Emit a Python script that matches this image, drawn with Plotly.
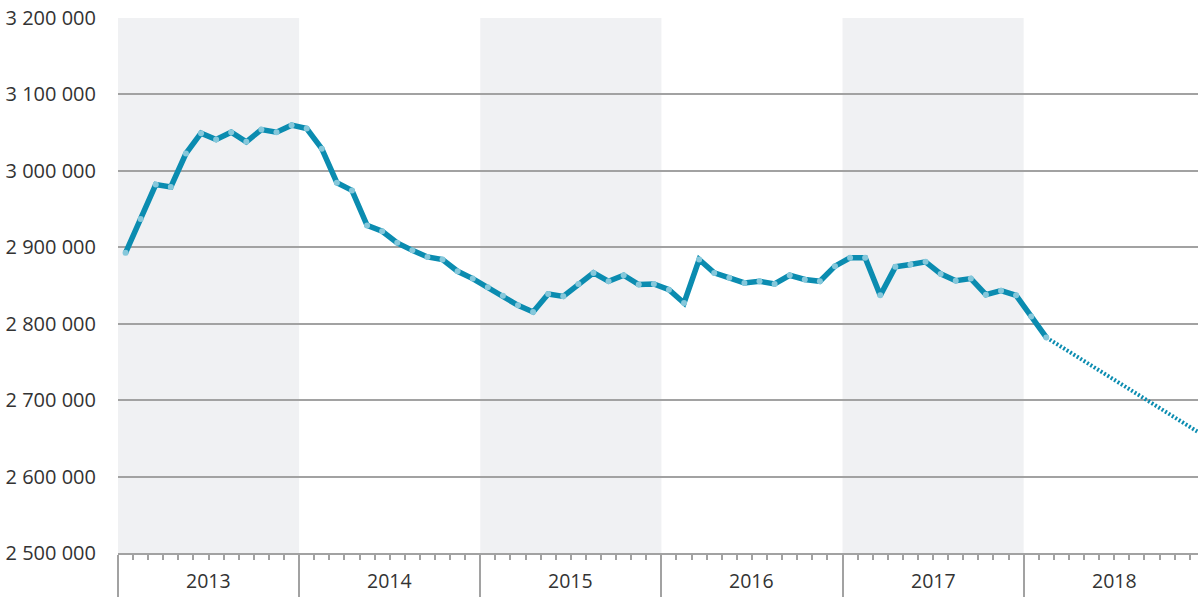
import plotly.graph_objects as go

# ---- data ----
years = [2013, 2014, 2015, 2016, 2017, 2018]
shaded_years = [2013, 2015, 2017]
months_per_year = 12

# monthly values Jan 2013 .. Feb 2018
values = [
    2892700, 2937100, 2982000, 2979000, 3022700, 3049300,
    3041000, 3050600, 3038000, 3054000, 3050600, 3059800,   # 2013
    3055400, 3029000, 2984500, 2974400, 2928600, 2921000,
    2905800, 2896000, 2887400, 2884000, 2868600, 2859000,   # 2014
    2847600, 2836700, 2824000, 2815300, 2838900, 2835800,
    2852100, 2866500, 2855500, 2863400, 2851200, 2852100,   # 2015
    2844600, 2827100, 2884000, 2866500, 2860000, 2853400,
    2855500, 2852100, 2863400, 2857900, 2855500, 2875300,   # 2016
    2886300, 2886300, 2837100, 2874400, 2877400, 2881000,
    2865200, 2856300, 2859000, 2838000, 2843200, 2837100,   # 2017
    2809500, 2782000,                                       # 2018
]
# projection (month index from Jan 2013, value)
proj_month_index = [61, 71]
proj_values = [2782000, 2659000]

y_ticks = [2500000, 2600000, 2700000, 2800000, 2900000, 3000000, 3100000, 3200000]
y_tick_text = ["2 500 000", "2 600 000", "2 700 000", "2 800 000",
               "2 900 000", "3 000 000", "3 100 000", "3 200 000"]

LINE = "#0b8cb0"
MARK = "#86c8db"
GRID = "#a2a2a2"
TXT = "#333333"
FONT = "Open Sans"

x_vals = [i + 0.5 for i in range(len(values))]
proj_x = [i + 0.5 for i in proj_month_index]

fig = go.Figure()

fig.add_trace(go.Scatter(
    x=proj_x, y=proj_values, mode="lines",
    line=dict(color=LINE, width=4, dash="2px,2px"),
    hoverinfo="skip", showlegend=False,
))
fig.add_trace(go.Scatter(
    x=x_vals, y=values, mode="lines+markers",
    line=dict(color=LINE, width=5.5),
    marker=dict(color=MARK, size=6, line=dict(width=0)),
    showlegend=False,
))

# shaded year bands
for yr in shaded_years:
    k = years.index(yr)
    fig.add_shape(type="rect", xref="x", yref="paper",
                  x0=k * months_per_year, x1=(k + 1) * months_per_year,
                  y0=0, y1=1, fillcolor="#f0f1f3", line=dict(width=0),
                  layer="below")

# year labels
for k, yr in enumerate(years):
    fig.add_annotation(x=k * months_per_year + months_per_year / 2, y=0,
                       xref="x", yref="paper", text=str(yr), showarrow=False,
                       yanchor="middle", yshift=-27.5,
                       font=dict(family=FONT, size=19.5, color=TXT))

fig.update_layout(
    width=1198, height=597,
    margin=dict(l=118, r=0, t=18, b=44),
    paper_bgcolor="white", plot_bgcolor="rgba(0,0,0,0)",
    xaxis=dict(
        range=[0, 71.55], automargin=False,
        showgrid=False, zeroline=False,
        showline=True, linecolor=GRID, linewidth=1.5,
        tickvals=[k * months_per_year for k in range(len(years) + 1)],
        showticklabels=False,
        ticks="outside", ticklen=44, tickwidth=1.5, tickcolor=GRID,
        minor=dict(dtick=1, tick0=0, ticks="outside", ticklen=5,
                   tickwidth=1.5, tickcolor=GRID, showgrid=False),
    ),
    yaxis=dict(
        range=[2500000, 3200000], automargin=False,
        tickvals=y_ticks, ticktext=y_tick_text,
        showgrid=True, gridcolor=GRID, gridwidth=1.5,
        zeroline=False, showline=False,
        ticks="", ticklabelstandoff=21,
        tickfont=dict(family=FONT, size=20, color=TXT),
    ),
)

fig.write_html(
    "out.html",
    config={"displayModeBar": False},
    post_script="document.body.style.margin='0px';document.body.style.overflow='hidden';",
)
